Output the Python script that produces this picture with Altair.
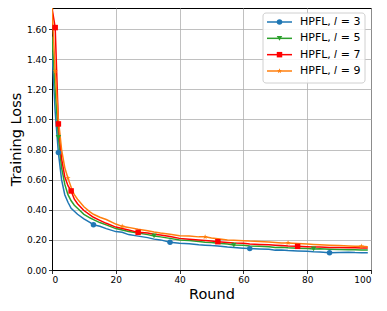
import altair as alt
import pandas as pd

rounds = [0, 1, 2, 3, 4, 5, 6, 7, 8, 10, 12, 13, 15, 17, 20, 22, 24, 27, 30, 32, 34, 37, 40, 43,
          46, 48, 50, 52, 55, 57, 60, 62, 65, 68, 70, 72, 74, 77, 80, 82, 84, 87, 90, 93, 95, 97, 99]

loss_l3 = [1.45, 1.05, 0.78, 0.60, 0.50, 0.45, 0.41, 0.39, 0.37, 0.34, 0.315, 0.30, 0.29, 0.275, 0.255,
           0.25, 0.235, 0.225, 0.215, 0.205, 0.20, 0.185, 0.178, 0.175, 0.168, 0.165, 0.162, 0.16, 0.152,
           0.15, 0.145, 0.142, 0.14, 0.137, 0.132, 0.133, 0.13, 0.127, 0.125, 0.122, 0.12, 0.115, 0.117,
           0.118, 0.116, 0.115, 0.115]
loss_l5 = [1.55, 1.2, 0.88, 0.68, 0.57, 0.50, 0.46, 0.43, 0.41, 0.37, 0.345, 0.335, 0.315, 0.30, 0.275,
           0.265, 0.255, 0.245, 0.235, 0.226, 0.22, 0.21, 0.20, 0.196, 0.19, 0.185, 0.182, 0.178, 0.172,
           0.166, 0.165, 0.16, 0.157, 0.155, 0.15, 0.151, 0.148, 0.145, 0.142, 0.14, 0.141, 0.138, 0.136,
           0.135, 0.134, 0.133, 0.133]
loss_l7 = [1.74, 1.61, 0.97, 0.74, 0.62, 0.56, 0.525, 0.47, 0.44, 0.395, 0.365, 0.35, 0.33, 0.31, 0.285,
           0.275, 0.265, 0.25, 0.245, 0.238, 0.232, 0.222, 0.21, 0.205, 0.20, 0.196, 0.192, 0.188, 0.183,
           0.18, 0.177, 0.173, 0.17, 0.167, 0.165, 0.163, 0.16, 0.157, 0.155, 0.153, 0.152, 0.15, 0.149,
           0.148, 0.147, 0.146, 0.146]
loss_l9 = [1.74, 1.32, 1.0, 0.80, 0.68, 0.61, 0.55, 0.50, 0.47, 0.42, 0.385, 0.37, 0.35, 0.335, 0.305,
           0.29, 0.283, 0.27, 0.26, 0.252, 0.245, 0.237, 0.228, 0.225, 0.22, 0.22, 0.213, 0.208, 0.20,
           0.198, 0.195, 0.192, 0.19, 0.186, 0.183, 0.18, 0.18, 0.176, 0.172, 0.17, 0.168, 0.165, 0.162,
           0.16, 0.158, 0.157, 0.155]

series = ["HPFL, 𝑙 = 3", "HPFL, 𝑙 = 5", "HPFL, 𝑙 = 7", "HPFL, 𝑙 = 9"]
colors = ["#1f77b4", "#2ca02c", "#ff0000", "#ff7f0e"]
STAR = "M0,-1L0.235,-0.324L0.951,-0.309L0.38,0.124L0.588,0.809L0,0.4L-0.588,0.809L-0.38,0.124L-0.951,-0.309L-0.235,-0.324Z"
shapes = ["circle", "triangle-down", "square", STAR]
marker_rounds = [[2, 13, 37, 62, 87], [2, 32, 57, 82], [1, 2, 6, 27, 52, 77], [0, 1, 5, 22, 48, 74, 97]]

x_ticks = [0, 20, 40, 60, 80, 100]
y_ticks = [0.0, 0.2, 0.4, 0.6, 0.8, 1.0, 1.2, 1.4, 1.6]

all_losses = [loss_l3, loss_l5, loss_l7, loss_l9]
line_rows, mk_rows = [], []
for name, vals, mks in zip(series, all_losses, marker_rounds):
    for r, v in zip(rounds, vals):
        line_rows.append({"series": name, "round": r, "loss": v})
    for r in mks:
        mk_rows.append({"series": name, "round": r, "loss": vals[rounds.index(r)]})
df = pd.DataFrame(line_rows)
mk = pd.DataFrame(mk_rows)
leg = pd.DataFrame({"series": series})

FONT = "DejaVu Sans"
color_scale = alt.Scale(domain=series, range=colors)
shape_scale = alt.Scale(domain=series, range=shapes)

xenc = alt.X("round:Q", scale=alt.Scale(domain=[0, 100], nice=False),
             axis=alt.Axis(values=x_ticks, title="Round", format="d"))
yenc = alt.Y("loss:Q", scale=alt.Scale(domain=[0, 1.74], nice=False, zero=False),
             axis=alt.Axis(values=y_ticks, format=".2f", title="Training Loss"))
cenc = alt.Color("series:N", scale=color_scale, legend=None)

lines = alt.Chart(df).mark_line(strokeWidth=1.5, clip=True).encode(
    x=xenc, y=yenc, color=cenc, order="round:Q")
points = alt.Chart(mk).mark_point(filled=True, size=30, opacity=1, clip=True).encode(
    x=xenc, y=yenc, color=cenc, shape=alt.Shape("series:N", scale=shape_scale, legend=None))

ly = alt.Y("series:N", scale=alt.Scale(type="point", domain=series, range=[14, 63], padding=0), axis=None)
box = alt.Chart(pd.DataFrame({"a": [0]})).mark_rect(
    fill="white", fillOpacity=0.85, stroke="#d0d0d0", strokeWidth=1, cornerRadius=3
).encode(x=alt.value(211), x2=alt.value(313), y=alt.value(5), y2=alt.value(75))
leg_rule = alt.Chart(leg).mark_rule(strokeWidth=1.5).encode(
    x=alt.value(215), x2=alt.value(240), y=ly, color=cenc)
leg_pt = alt.Chart(leg).mark_point(filled=True, size=30, opacity=1).encode(
    x=alt.value(227.5), y=ly, color=cenc, shape=alt.Shape("series:N", scale=shape_scale, legend=None))
leg_txt = alt.Chart(leg).mark_text(align="left", baseline="middle", fontSize=11, font=FONT, color="black").encode(
    x=alt.value(248), y=ly, text="series:N")

main = alt.layer(lines, points)
legend_layer = alt.layer(box, leg_rule, leg_pt, leg_txt)

chart = alt.layer(main, legend_layer).resolve_scale(y="independent").properties(
    width=319, height=262,
    autosize=alt.AutoSizeParams(type="none"),
    padding={"left": 44, "top": 0, "right": 4, "bottom": 33},
).configure_view(stroke="black", strokeWidth=1).configure_axis(
    domainColor="black", domainWidth=1, tickColor="black", tickWidth=0.8, tickSize=3.5,
    labelFont=FONT, labelFontSize=9, labelColor="black", labelPadding=2,
    titleFont=FONT, titleFontSize=14.5, titleFontWeight="normal", titleColor="black",
    gridColor="#b0b0b0", gridWidth=0.8, grid=True,
).configure_axisX(titlePadding=3).configure_axisY(titlePadding=3)

chart.save("out.html", embed_options={"renderer": "svg", "actions": False})
